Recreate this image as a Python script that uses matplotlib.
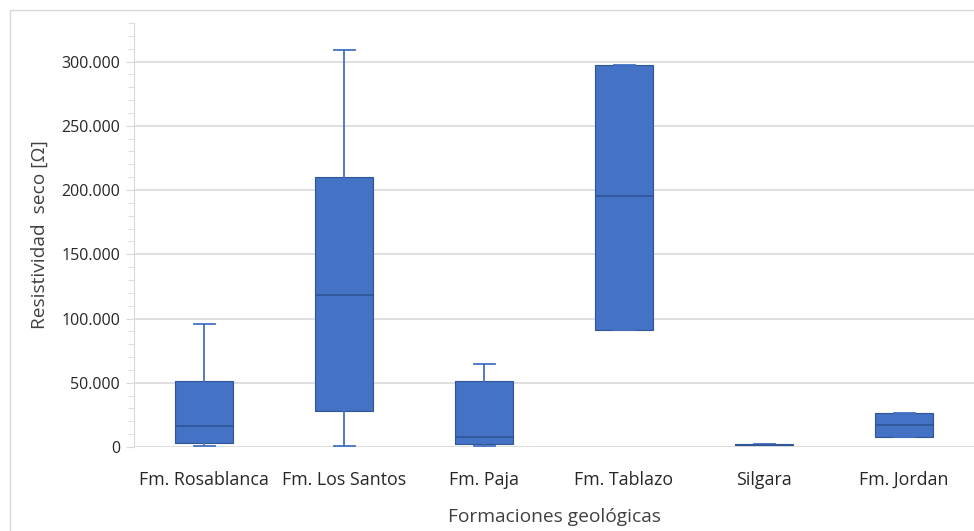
import numpy as np
import matplotlib
matplotlib.use("Agg")
import matplotlib.pyplot as plt
from matplotlib.ticker import FuncFormatter, MultipleLocator
from matplotlib.patches import Rectangle

plt.rcParams.update({"font.family": ["Open Sans", "DejaVu Sans"]})

formaciones = ["Fm. Rosablanca", "Fm. Los Santos", "Fm. Paja", "Fm. Tablazo", "Silgara", "Fm. Jordan"]
minimo = [500, 1000, 1000, 91000, 1200, 8000]
q1 = [3000, 28000, 2300, 91000, 1200, 8000]
mediana = [16500, 118500, 7800, 195000, 1800, 17300]
q3 = [51000, 210000, 51500, 297500, 2500, 26700]
maximo = [95500, 309000, 64500, 297500, 2500, 26700]

AZUL = "#4472C4"; BORDE = "#2F5597"; GRIS = "#D9D9D9"

stats = [dict(label=f, whislo=lo, q1=a, med=m, q3=b, whishi=hi)
         for f, lo, a, m, b, hi in zip(formaciones, minimo, q1, mediana, q3, maximo)]

fig = plt.figure(figsize=(9.74, 5.31), dpi=100)
ax = fig.add_axes([134 / 974, 84 / 531, 840 / 974, 424 / 531])
ax.bxp(stats, positions=range(len(stats)), widths=0.41, patch_artist=True, showfliers=False,
       boxprops=dict(facecolor=AZUL, edgecolor=BORDE, linewidth=0.8),
       medianprops=dict(color=BORDE, linewidth=1.2),
       whiskerprops=dict(color=AZUL, linewidth=1.3),
       capprops=dict(color=AZUL, linewidth=1.3), capwidths=0.15)
for a in ax.lines: a.set_clip_on(False)

ax.set_xlim(-0.5, 5.5); ax.set_ylim(0, 330000)
ax.yaxis.set_major_locator(MultipleLocator(50000))
ax.yaxis.set_minor_locator(MultipleLocator(10000))
ax.yaxis.set_major_formatter(FuncFormatter(lambda v, p: f"{v:,.0f}".replace(",", ".")))
ax.grid(axis="y", color=GRIS, linewidth=1.2); ax.set_axisbelow(True)
for s in ["top", "right", "bottom"]: ax.spines[s].set_visible(False)
ax.spines["left"].set_color(GRIS)
ax.tick_params(axis="y", which="major", length=6, color=GRIS, labelsize=11.5, labelcolor="#262626", pad=4)
ax.tick_params(axis="y", which="minor", length=4, color=GRIS)
ax.tick_params(axis="x", length=0, labelsize=12.8, labelcolor="#262626", pad=17)
ax.set_xticks(range(len(formaciones)), formaciones)
ax.set_ylabel("Resistividad  seco [Ω]", fontsize=13.8, color="#404040", labelpad=9)
ax.set_xlabel("Formaciones geológicas", fontsize=13.8, color="#404040", labelpad=14)
fig.patches.append(Rectangle((10 / 974, -0.01), 1, 1 - 10 / 531 + 0.01, transform=fig.transFigure,
                             fill=False, edgecolor=GRIS, linewidth=1))
fig.savefig("out.png", dpi=100)
